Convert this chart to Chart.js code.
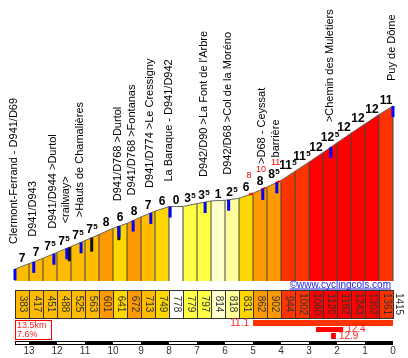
<!DOCTYPE html>
<html><head><meta charset="utf-8">
<style>html,body{margin:0;padding:0;background:#fff}canvas{display:block}</style>
<script src="https://cdn.jsdelivr.net/npm/chart.js@4/dist/chart.umd.min.js"></script>
</head><body>
<canvas id="c" width="408" height="358"></canvas>
<script>
// ---- data ----
const kmFromStart = [0,0.5,1,1.5,2,2.5,3,3.5,4,4.5,5,5.5,6,6.5,7,7.5,8,8.5,9,9.5,10,10.5,11,11.5,12,12.5,13,13.5];
const altitudes = [383,417,451,488,525,563,601,641,672,713,749,778,779,797,814,818,831,862,902,944,1002,1060,1120,1182,1243,1302,1361,1415];
const gradients = [7,7,7.5,7.5,7.5,7.5,8,6,8,7,6,0,3.5,3.5,1,2.5,6,8,8.5,11.5,11.5,12,12.5,12,12,12,11];
const placeNames = ["Clermont-Ferrand - D941/D69","D941/D943","D941/D944 >Durtol","<railway>",">Hauts de Chamalières",
  "D941/D768 >Durtol","D941/D768 >Fontanas","D941/D774 >Le Cressigny","La Baraque - D941/D942",
  "D942/D90 >La Font de l'Arbre","D942/D68 >Col de la Moréno",">D68 - Ceyssat","barrière",">Chemin des Muletiers","Puy de Dôme"];
const placeKm = [0,0.67,1.39,1.85,2.36,3.71,4.22,4.85,5.54,6.79,7.63,8.85,9.35,11.28,13.5];
const blackMarkKm = [1.94,2.74,3.71];
const redMarkKm = [8.43,8.86,9.38];
const redMarkLabels = ["8","10","11"];
const kmToGoLabels = ["13","12","11","10","9","8","7","6","5","4","3","2","1","0"];
const kmToGoPos = [0.5,1.5,2.5,3.5,4.5,5.5,6.5,7.5,8.5,9.5,10.5,11.5,12.5,13.5];
const totalDistance = "13.5km";
const avgGradient = "7.6%";
const steepFrom = [8.5,10.75,11.29];
const steepTo = [13.5,11.72,11.46];
const steepLabels = ["11.1","12.4","12.9"];
const copyright = "©www.cyclingcols.com";

// ---- style ----
const FONT = '"Liberation Sans", Arial, sans-serif';
const BASE_ALT = 307.1;
function gradeColor(g){
  if (g < 0.5) return '#FFFFFF';
  if (g < 2) return '#FFFFCC';
  if (g < 3) return '#FFFF99';
  if (g < 5) return '#FFFF44';
  if (g < 7) return '#FFD700';
  if (g < 8) return '#FFBB00';
  if (g < 11) return '#FF9900';
  if (g < 12) return '#FF3300';
  return '#FF0000';
}
function altAt(k){
  for (let i=0;i<kmFromStart.length-1;i++){
    if (k <= kmFromStart[i+1]){
      const t=(k-kmFromStart[i])/(kmFromStart[i+1]-kmFromStart[i]);
      return altitudes[i]+t*(altitudes[i+1]-altitudes[i]);
    }
  }
  return altitudes[altitudes.length-1];
}

const decor = {
  id:'decor',
  afterDatasetsDraw(chart){
    const ctx = chart.ctx, xs = chart.scales.x, ys = chart.scales.y;
    const px = k => xs.getPixelForValue(k);
    const py = a => ys.getPixelForValue(a);
    ctx.save();
    // red steep marks on the line
    ctx.strokeStyle = '#FF0000'; ctx.lineWidth = 2;
    redMarkKm.forEach((k,i)=>{
      ctx.beginPath(); ctx.moveTo(px(k-0.07), py(altAt(k-0.07))); ctx.lineTo(px(k+0.07), py(altAt(k+0.07))); ctx.stroke();
      ctx.fillStyle = '#FF0000'; ctx.font = '9px '+FONT; ctx.textAlign='center'; ctx.textBaseline='middle';
      ctx.fillText(redMarkLabels[i], px(k)-2, py(altAt(k))-19);
    });
    // black marks
    ctx.fillStyle = '#111';
    blackMarkKm.forEach(k=>{ const x=px(k), y=py(altAt(k)); ctx.fillRect(x-1.5, y, 3, 14); });
    // blue marks
    ctx.fillStyle = '#0000FF';
    placeKm.forEach(k=>{ const x=px(k), y=py(altAt(k)); ctx.fillRect(x-1.5, y, 3, 11); });
    // gradient labels
    ctx.fillStyle = '#000'; ctx.textBaseline='alphabetic'; ctx.textAlign='left';
    gradients.forEach((g,i)=>{
      const cx = (px(kmFromStart[i])+px(kmFromStart[i+1]))/2;
      const by = py(Math.max(altitudes[i],altitudes[i+1]))-2;
      const whole = Math.floor(g), half = (g-whole) >= 0.5;
      ctx.font = 'bold 12px '+FONT;
      const w1 = ctx.measureText(String(whole)).width;
      let w2 = 0;
      if (half){ ctx.font = 'bold 8px '+FONT; w2 = ctx.measureText('5').width+0.5; }
      const s = cx-(w1+w2)/2;
      ctx.font = 'bold 12px '+FONT; ctx.fillText(String(whole), s, by);
      if (half){ ctx.font='bold 8px '+FONT; ctx.fillText('5', s+w1+0.5, by-4); }
    });
    // place labels
    ctx.font = '11px '+FONT; ctx.fillStyle='#000'; ctx.textAlign='left'; ctx.textBaseline='middle';
    placeNames.forEach((n,i)=>{
      const k = placeKm[i];
      ctx.save(); ctx.translate(px(k)-1, py(altAt(k))-25); ctx.rotate(-Math.PI/2); ctx.fillText(n,0,0); ctx.restore();
    });
    // altitude boxes
    const bTop = 290, bH = 28;
    for (let i=0;i<altitudes.length-1;i++){
      const x0=px(kmFromStart[i]), x1=px(kmFromStart[i+1]);
      ctx.fillStyle = gradeColor(gradients[i]); ctx.fillRect(x0,bTop,x1-x0,bH);
      ctx.strokeStyle='#333'; ctx.lineWidth=1; ctx.strokeRect(x0+0.5,bTop+0.5,x1-x0,bH);
    }
    ctx.font='10px '+FONT; ctx.fillStyle='#333'; ctx.textAlign='center'; ctx.textBaseline='middle';
    altitudes.forEach((a,i)=>{
      let x;
      if (i<altitudes.length-1) x=(px(kmFromStart[i])+px(kmFromStart[i+1]))/2; else x=px(kmFromStart[i])+5;
      ctx.save(); ctx.translate(x+0.5, bTop+bH/2); ctx.rotate(Math.PI/2); ctx.fillText(String(a),0,0); ctx.restore();
    });
    // copyright
    ctx.font='10px '+FONT; ctx.fillStyle='#2222DD'; ctx.textAlign='right'; ctx.textBaseline='alphabetic';
    const cw = ctx.measureText(copyright).width;
    ctx.fillText(copyright, 391, 287.5);
    ctx.fillRect(391-cw, 288.5, cw, 1);
    // summary box
    ctx.strokeStyle='#FF0000'; ctx.strokeRect(15.5,320.5,36,19);
    ctx.fillStyle='#FF2020'; ctx.font='9px '+FONT; ctx.textAlign='left'; ctx.textBaseline='middle';
    ctx.fillText(totalDistance,17,325.5); ctx.fillText(avgGradient,17,334.5);
    // steep sections
    const rows=[320,327,333], hs=[6,5,6];
    ctx.font='10px '+FONT;
    steepLabels.forEach((l,i)=>{
      const x0=px(steepFrom[i]), x1=px(steepTo[i]);
      ctx.fillStyle=gradeColor(parseFloat(l)); ctx.fillRect(x0,rows[i],x1-x0,hs[i]);
      ctx.fillStyle='#FF2020'; ctx.textBaseline='middle';
      if (i===0){ ctx.textAlign='right'; ctx.fillText(l,x0-4,rows[i]+3); }
      else { ctx.textAlign='left'; ctx.fillText(l,x1+3,rows[i]+hs[i]/2); }
    });
    // scale bar
    const sx0=px(0), sx1=px(13.5);
    ctx.fillStyle='#000'; ctx.fillRect(sx0,341,sx1-sx0,4);
    const bounds=[0].concat(kmToGoPos);
    ctx.fillStyle='#fff';
    for (let j=0;j<bounds.length-1;j++){
      if ((13-j)%2===1){ const a=px(bounds[j]), b=px(bounds[j+1]); ctx.fillRect(a+(j===0?1:0),342,b-a-(j===0?1:0),2); }
    }
    // km labels
    ctx.fillStyle='#333'; ctx.font='10px '+FONT; ctx.textAlign='center'; ctx.textBaseline='middle';
    kmToGoLabels.forEach((l,j)=>ctx.fillText(l, px(kmToGoPos[j]), 351));
    ctx.restore();
  }
};

new Chart(document.getElementById('c'), {
  type:'line',
  data:{ datasets:[
    { type:'line', data: kmFromStart.map((k,i)=>({x:k,y:altitudes[i]})),
      borderColor:'#666', borderWidth:1, pointRadius:0, tension:0,
      fill:{value:BASE_ALT}, backgroundColor:'#FFBB00',
      segment:{ backgroundColor: c => gradeColor(gradients[c.p0DataIndex]) },
      order:0 },
    { type:'bar', data: kmFromStart.map((k,i)=>({x:k,y:[BASE_ALT,altitudes[i]]})),
      backgroundColor:'#444', barThickness:1, borderWidth:0, inflateAmount:0, order:1 }
  ]},
  options:{
    responsive:false, animation:false, devicePixelRatio:1, events:[],
    layout:{padding:0},
    scales:{
      x:{type:'linear', min:-15/28, max:393/28, display:false, offset:false},
      y:{type:'linear', min:-180.4, max:2086.1, display:false}
    },
    plugins:{ legend:{display:false}, tooltip:{enabled:false}, filler:{drawTime:'beforeDatasetsDraw'} }
  },
  plugins:[decor]
});
</script>
</body></html>
